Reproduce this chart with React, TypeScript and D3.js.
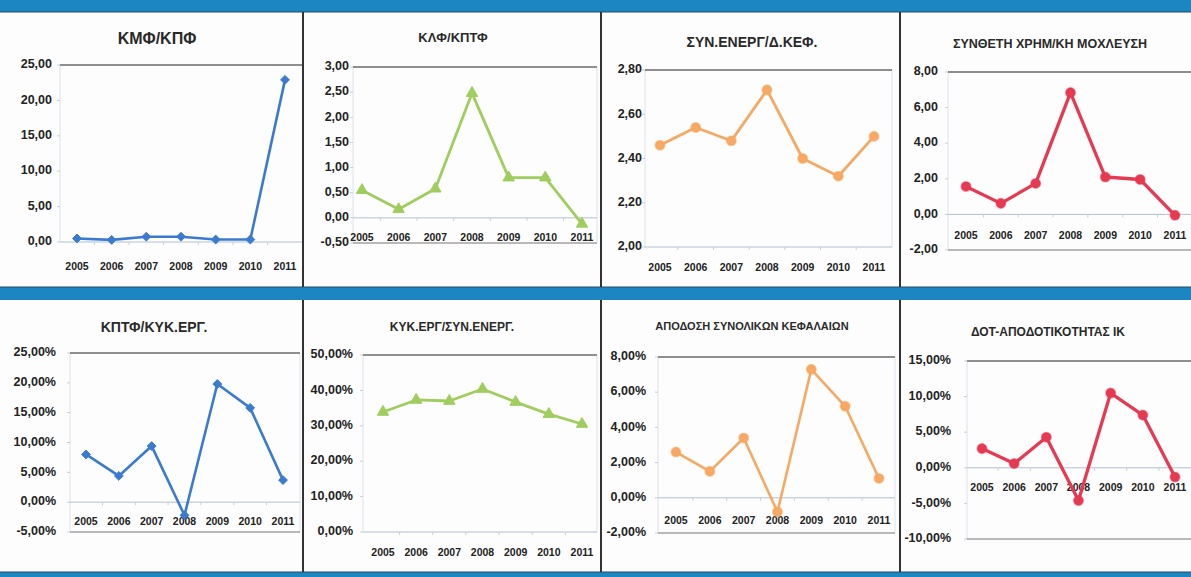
import React from 'react'
import * as d3 from 'd3'

// years shown under every small chart
const years = ['2005', '2006', '2007', '2008', '2009', '2010', '2011']

// values, one array per chart
const kmfKpf = [0.5, 0.3, 0.75, 0.75, 0.35, 0.35, 22.9]
const klfKptf = [0.55, 0.17, 0.58, 2.48, 0.8, 0.8, -0.12]
const synEnergDKef = [2.46, 2.54, 2.48, 2.71, 2.4, 2.32, 2.5]
const synthetiMoxleusi = [1.57, 0.62, 1.74, 6.84, 2.1, 1.96, -0.05]
const kptfKykErg = [8.0, 4.4, 9.4, -2.2, 19.8, 15.8, 3.7]
const kykErgSynEnerg = [33.9, 37.3, 37.0, 40.4, 36.7, 33.3, 30.5]
const apodosiKef = [2.6, 1.5, 3.4, -0.8, 7.3, 5.2, 1.1]
const dotApodotikotita = [2.7, 0.6, 4.3, -4.6, 10.5, 7.4, -1.3]

// axis ticks per chart
const ticks1 = [0, 5, 10, 15, 20, 25]
const ticks2 = [-0.5, 0, 0.5, 1, 1.5, 2, 2.5, 3]
const ticks3 = [2.0, 2.2, 2.4, 2.6, 2.8]
const ticks4 = [-2, 0, 2, 4, 6, 8]
const ticks5 = [-5, 0, 5, 10, 15, 20, 25]
const ticks6 = [0, 10, 20, 30, 40, 50]
const ticks7 = [-2, 0, 2, 4, 6, 8]
const ticks8 = [-10, -5, 0, 5, 10, 15]

const titles = [
  'ΚΜΦ/ΚΠΦ',
  'ΚΛΦ/ΚΠΤΦ',
  'ΣΥΝ.ΕΝΕΡΓ/Δ.ΚΕΦ.',
  'ΣΥΝΘΕΤΗ ΧΡΗΜ/ΚΗ ΜΟΧΛΕΥΣΗ',
  'ΚΠΤΦ/ΚΥΚ.ΕΡΓ.',
  'ΚΥΚ.ΕΡΓ/ΣΥΝ.ΕΝΕΡΓ.',
  'ΑΠΟΔΟΣΗ ΣΥΝΟΛΙΚΩΝ ΚΕΦΑΛΑΙΩΝ',
  'ΔΟΤ-ΑΠΟΔΟΤΙΚΟΤΗΤΑΣ ΙΚ',
]

const W = 1191
const H = 577
const BAND = '#1b86c2'
const FONT = '"Liberation Sans", Arial, sans-serif'

const BLUE = '#3a7bd0'
const GREEN = '#9fcd5e'
const ORANGE = '#f7a863'
const RED = '#e63a52'

const locale = d3.formatLocale({
  decimal: ',',
  thousands: '.',
  grouping: [3],
  currency: ['', '€'],
  minus: '-',
})
const fmt2 = locale.format('.2f')

const diamond = (d3 as any).symbolDiamond2 || d3.symbolDiamond

// layout of the 8 panels (positions only)
const panels = [
  { values: kmfKpf, ticks: ticks1, pct: false, color: BLUE, lw: 2.6, marker: 'diamond', tSize: 16, tx: 157, ty: 40,
    rect: [60, 303, 65, 242], pts: [77, 285], tickRight: 52, yearDy: 25 },
  { values: klfKptf, ticks: ticks2, pct: false, color: GREEN, lw: 2.8, marker: 'triangle', tSize: 13, tx: 453, ty: 39,
    rect: [353, 597, 67, 243], pts: [362, 582], tickRight: 349, yearDy: 20 },
  { values: synEnergDKef, ticks: ticks3, pct: false, color: ORANGE, lw: 2.8, marker: 'circle', tSize: 14, tx: 752, ty: 43,
    rect: [645, 892, 70, 247], pts: [660, 874], tickRight: 642, yearDy: 21 },
  { values: synthetiMoxleusi, ticks: ticks4, pct: false, color: RED, lw: 3.3, marker: 'circle', tSize: 12.5, tx: 1050, ty: 45,
    rect: [948, 1195, 72, 250], pts: [966, 1175], tickRight: 938, yearDy: 22 },
  { values: kptfKykErg, ticks: ticks5, pct: true, color: BLUE, lw: 2.6, marker: 'diamond', tSize: 14, tx: 154, ty: 328,
    rect: [70, 300, 353, 532], pts: [86, 283], tickRight: 56, yearDy: 20 },
  { values: kykErgSynEnerg, ticks: ticks6, pct: true, color: GREEN, lw: 2.8, marker: 'triangle', tSize: 12, tx: 452, ty: 328,
    rect: [363, 597, 355, 532], pts: [383, 582], tickRight: 353, yearDy: 21 },
  { values: apodosiKef, ticks: ticks7, pct: true, color: ORANGE, lw: 2.6, marker: 'circle', tSize: 11, tx: 752, ty: 327,
    rect: [658, 895, 357, 533], pts: [676, 879], tickRight: 646, yearDy: 23 },
  { values: dotApodotikotita, ticks: ticks8, pct: true, color: RED, lw: 3.3, marker: 'circle', tSize: 12, tx: 1048, ty: 333,
    rect: [967, 1195, 361, 539], pts: [982, 1175], tickRight: 951, yearDy: 20 },
]

function Marker({ kind, color, x, y }: { kind: string, color: string, x: number, y: number }) {
  if (kind === 'circle') {
    return <circle cx={x} cy={y} r={4.8} fill={color} stroke={color} strokeOpacity={0.5} strokeWidth={1.5} />
  }
  const sym = d3.symbol().type(kind === 'diamond' ? diamond : d3.symbolTriangle).size(kind === 'diamond' ? 50 : 56)
  return <path d={sym() || ''} transform={`translate(${x},${y})`} fill={color} stroke={color} strokeWidth={1} />
}

function Panel({ p, title }: { p: any, title: string }) {
  const [x0, x1, y0, y1] = p.rect
  const lo = p.ticks[0]
  const hi = p.ticks[p.ticks.length - 1]
  const y = d3.scaleLinear().domain([lo, hi]).range([y1, y0])
  const x = d3.scalePoint().domain(years).range(p.pts)
  const step = x.step()
  const axisVal = lo < 0 ? 0 : lo
  const axisY = y(axisVal)
  const line = d3.line<number>()
    .x((d, i) => x(years[i]) as number)
    .y(d => y(d))
  const label = (v: number) => fmt2(v) + (p.pct ? '%' : '')

  return (
    <g>
      <text x={p.tx} y={p.ty} textAnchor="middle" dominantBaseline="middle"
        fontFamily={FONT} fontWeight="bold" fontSize={p.tSize} fill="#2a2a2a">{title}</text>
      {/* plot area */}
      <line x1={x0} x2={x0} y1={y0} y2={y1} stroke="#dde2ea" />
      <line x1={x1} x2={x1} y1={y0} y2={y1} stroke="#dde2ea" />
      <line x1={x0} x2={x1} y1={y0} y2={y0} stroke="#6a6a6a" strokeWidth={1.4} />
      {lo < 0 && <line x1={x0} x2={x1} y1={y1} y2={y1} stroke="#777" strokeWidth={1.2} />}
      <line x1={x0} x2={x1} y1={axisY} y2={axisY} stroke="#b3c0d2" strokeWidth={1} />
      {p.ticks.map((t: number) => (
        <g key={t}>
          <line x1={x0 - 3} x2={x0} y1={y(t)} y2={y(t)} stroke="#c8ced8" />
          <text x={p.tickRight} y={y(t)} textAnchor="end" dominantBaseline="middle"
            fontFamily={FONT} fontWeight="bold" fontSize={12.5} fill="#222">{label(t)}</text>
        </g>
      ))}
      {years.map((yr, i) => (
        <g key={yr}>
          {i > 0 && <line x1={(x(yr) as number) - step / 2} x2={(x(yr) as number) - step / 2}
            y1={axisY} y2={axisY + 3} stroke="#c8ced8" />}
          <text x={x(yr)} y={axisY + p.yearDy} textAnchor="middle" dominantBaseline="middle"
            fontFamily={FONT} fontWeight="bold" fontSize={10.5} fill="#222">{yr}</text>
        </g>
      ))}
      <path d={line(p.values) || ''} fill="none" stroke={p.color} strokeWidth={p.lw} strokeLinejoin="round" />
      {p.values.map((v: number, i: number) => (
        <Marker key={i} kind={p.marker} color={p.color} x={x(years[i]) as number} y={y(v)} />
      ))}
    </g>
  )
}

export default function App() {
  return (
    <svg width={W} height={H} style={{ position: 'absolute', left: 0, top: 0, background: '#fdfdfd' }}>
      <rect x={0} y={0} width={W} height={H} fill="#fdfdfd" />
      {panels.map((p, i) => <Panel key={i} p={p} title={titles[i]} />)}
      {/* frame: blue bands and panel separators */}
      <rect x={0} y={0} width={W} height={12} fill={BAND} />
      <line x1={0} x2={W} y1={12} y2={12} stroke="#2a4a60" strokeWidth={1} />
      <rect x={0} y={287} width={W} height={13} fill={BAND} />
      <line x1={0} x2={W} y1={287} y2={287} stroke="#2a4a60" strokeWidth={1} />
      <rect x={0} y={572} width={W} height={5} fill={BAND} />
      <line x1={0} x2={W} y1={572} y2={572} stroke="#2a4a60" strokeWidth={1} />
      {[303, 601, 900].map(sx => (
        <g key={sx}>
          <line x1={sx} x2={sx} y1={12} y2={287} stroke="#333" strokeWidth={2} />
          <line x1={sx} x2={sx} y1={300} y2={572} stroke="#333" strokeWidth={2} />
        </g>
      ))}
    </svg>
  )
}
